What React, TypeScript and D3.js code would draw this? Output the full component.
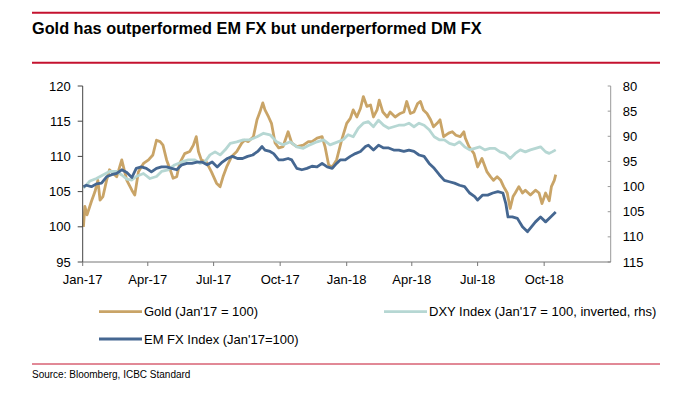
import React from 'react';
import * as d3 from 'd3';

// values
const goldData: [string, number][] = [
  ['2017-01-02', 100.0], ['2017-01-04', 102.9], ['2017-01-07', 101.7], ['2017-01-13', 103.6], ['2017-01-18', 105.0],
  ['2017-01-22', 106.6], ['2017-01-25', 103.8], ['2017-01-29', 104.3], ['2017-02-03', 106.6], ['2017-02-07', 108.1],
  ['2017-02-17', 107.1], ['2017-02-24', 109.5], ['2017-03-03', 106.6], ['2017-03-10', 105.2], ['2017-03-14', 104.5],
  ['2017-03-19', 107.8], ['2017-03-26', 109.0], ['2017-04-02', 109.5], ['2017-04-08', 110.2], ['2017-04-13', 112.3],
  ['2017-04-18', 112.1], ['2017-04-22', 111.6], ['2017-04-27', 109.5], ['2017-05-02', 108.1], ['2017-05-06', 106.9],
  ['2017-05-11', 107.1], ['2017-05-15', 109.0], ['2017-05-22', 110.4], ['2017-05-29', 110.7], ['2017-06-03', 111.6],
  ['2017-06-07', 112.8], ['2017-06-10', 110.7], ['2017-06-14', 109.5], ['2017-06-21', 109.2], ['2017-06-28', 107.8],
  ['2017-07-05', 106.2], ['2017-07-10', 105.7], ['2017-07-14', 107.1], ['2017-07-19', 108.5], ['2017-07-26', 110.0],
  ['2017-08-02', 110.7], ['2017-08-09', 111.9], ['2017-08-13', 112.3], ['2017-08-18', 112.1], ['2017-08-25', 112.8],
  ['2017-08-30', 115.2], ['2017-09-03', 116.3], ['2017-09-07', 117.6], ['2017-09-10', 116.6], ['2017-09-15', 115.6],
  ['2017-09-19', 114.7], ['2017-09-24', 111.9], ['2017-09-29', 111.2], ['2017-10-05', 111.4], ['2017-10-12', 113.5],
  ['2017-10-17', 111.9], ['2017-10-24', 111.4], ['2017-11-02', 111.6], ['2017-11-09', 112.1], ['2017-11-14', 112.1],
  ['2017-11-21', 112.6], ['2017-11-28', 112.8], ['2017-12-02', 111.4], ['2017-12-07', 108.8], ['2017-12-12', 108.5],
  ['2017-12-18', 109.5], ['2017-12-25', 112.3], ['2018-01-01', 114.7], ['2018-01-06', 115.4], ['2018-01-10', 116.6],
  ['2018-01-15', 115.6], ['2018-01-20', 116.8], ['2018-01-24', 118.5], ['2018-01-29', 117.1], ['2018-02-03', 117.3],
  ['2018-02-07', 115.6], ['2018-02-12', 116.6], ['2018-02-15', 118.0], ['2018-02-20', 116.3], ['2018-02-26', 115.6],
  ['2018-03-02', 116.3], ['2018-03-09', 115.6], ['2018-03-16', 116.1], ['2018-03-21', 116.3], ['2018-03-25', 117.8],
  ['2018-03-30', 116.1], ['2018-04-04', 116.3], ['2018-04-09', 117.5], ['2018-04-13', 117.8], ['2018-04-17', 116.6],
  ['2018-04-22', 116.1], ['2018-04-27', 115.2], ['2018-05-01', 114.2], ['2018-05-06', 114.7], ['2018-05-10', 115.2],
  ['2018-05-15', 112.8], ['2018-05-22', 113.3], ['2018-05-27', 113.5], ['2018-06-01', 113.0], ['2018-06-07', 112.8],
  ['2018-06-12', 113.5], ['2018-06-14', 112.6], ['2018-06-19', 111.4], ['2018-06-26', 110.4], ['2018-07-01', 108.5],
  ['2018-07-07', 109.7], ['2018-07-14', 107.8], ['2018-07-19', 107.1], ['2018-07-23', 106.6], ['2018-07-28', 107.1],
  ['2018-08-02', 106.6], ['2018-08-06', 105.7], ['2018-08-11', 104.8], ['2018-08-15', 102.6], ['2018-08-19', 104.3],
  ['2018-08-22', 104.8], ['2018-08-27', 105.7], ['2018-09-01', 104.8], ['2018-09-05', 105.2], ['2018-09-12', 104.5],
  ['2018-09-19', 105.2], ['2018-09-24', 104.8], ['2018-09-28', 103.3], ['2018-10-03', 104.8], ['2018-10-08', 103.7],
  ['2018-10-11', 105.7], ['2018-10-15', 106.6], ['2018-10-17', 107.4],
];

// DXY, plotted on the inverted right axis
const dxyData: [string, number][] = [
  ['2017-01-02', 100.3], ['2017-01-11', 98.9], ['2017-01-20', 98.4], ['2017-01-29', 97.7], ['2017-02-07', 97.0],
  ['2017-02-17', 97.0], ['2017-02-24', 97.7], ['2017-03-03', 98.5], ['2017-03-10', 98.7], ['2017-03-16', 98.0],
  ['2017-03-26', 97.4], ['2017-04-04', 98.4], ['2017-04-13', 98.0], ['2017-04-20', 97.0], ['2017-04-29', 96.7],
  ['2017-05-08', 95.7], ['2017-05-18', 95.1], ['2017-05-27', 94.7], ['2017-06-05', 94.7], ['2017-06-12', 95.4],
  ['2017-06-19', 95.1], ['2017-06-26', 93.7], ['2017-07-03', 93.1], ['2017-07-10', 93.7], ['2017-07-17', 92.7],
  ['2017-07-24', 91.4], ['2017-08-02', 91.1], ['2017-08-11', 90.7], ['2017-08-20', 90.7], ['2017-08-30', 90.1],
  ['2017-09-08', 89.4], ['2017-09-17', 89.7], ['2017-09-26', 91.1], ['2017-10-05', 91.7], ['2017-10-15', 91.1],
  ['2017-10-24', 92.1], ['2017-11-02', 92.4], ['2017-11-11', 91.7], ['2017-11-21', 91.1], ['2017-11-30', 90.7],
  ['2017-12-09', 91.7], ['2017-12-18', 91.2], ['2017-12-27', 90.7], ['2018-01-03', 89.7], ['2018-01-10', 90.1],
  ['2018-01-17', 88.4], ['2018-01-24', 87.4], ['2018-01-31', 87.1], ['2018-02-07', 88.1], ['2018-02-14', 86.8],
  ['2018-02-21', 87.8], ['2018-02-28', 88.4], ['2018-03-07', 88.1], ['2018-03-14', 87.8], ['2018-03-21', 87.8],
  ['2018-03-28', 87.4], ['2018-04-04', 88.1], ['2018-04-11', 87.4], ['2018-04-18', 87.8], ['2018-04-25', 88.7],
  ['2018-05-02', 90.1], ['2018-05-09', 90.7], ['2018-05-16', 90.7], ['2018-05-23', 91.4], ['2018-05-30', 91.7],
  ['2018-06-06', 91.1], ['2018-06-13', 92.1], ['2018-06-20', 92.7], ['2018-06-27', 92.4], ['2018-07-04', 92.1],
  ['2018-07-11', 92.7], ['2018-07-18', 92.4], ['2018-07-25', 92.4], ['2018-08-01', 93.1], ['2018-08-08', 93.4],
  ['2018-08-15', 94.4], ['2018-08-22', 93.4], ['2018-08-29', 92.7], ['2018-09-05', 93.1], ['2018-09-12', 92.7],
  ['2018-09-19', 92.4], ['2018-09-26', 92.1], ['2018-10-03', 93.1], ['2018-10-08', 93.4], ['2018-10-12', 93.1],
  ['2018-10-17', 92.7],
];

// EM FX, read against the left axis
const emData: [string, number][] = [
  ['2017-01-02', 105.7], ['2017-01-06', 105.9], ['2017-01-13', 105.7], ['2017-01-20', 106.1], ['2017-01-27', 106.2],
  ['2017-02-03', 107.1], ['2017-02-10', 107.4], ['2017-02-17', 107.6], ['2017-02-24', 108.1], ['2017-03-03', 107.7],
  ['2017-03-10', 107.0], ['2017-03-16', 108.3], ['2017-03-23', 108.5], ['2017-03-30', 108.3], ['2017-04-06', 107.8],
  ['2017-04-13', 108.3], ['2017-04-20', 108.5], ['2017-04-27', 108.5], ['2017-05-04', 108.3], ['2017-05-11', 108.1],
  ['2017-05-18', 108.8], ['2017-05-25', 109.0], ['2017-06-01', 109.0], ['2017-06-08', 109.2], ['2017-06-15', 109.2],
  ['2017-06-22', 108.8], ['2017-06-29', 109.2], ['2017-07-06', 108.5], ['2017-07-13', 109.2], ['2017-07-20', 109.7],
  ['2017-07-27', 110.0], ['2017-08-03', 109.7], ['2017-08-10', 109.7], ['2017-08-17', 110.0], ['2017-08-24', 110.2],
  ['2017-08-31', 110.7], ['2017-09-06', 111.4], ['2017-09-10', 110.9], ['2017-09-17', 110.7], ['2017-09-22', 110.4],
  ['2017-09-29', 109.5], ['2017-10-05', 109.5], ['2017-10-12', 109.7], ['2017-10-17', 109.5], ['2017-10-24', 108.3],
  ['2017-10-31', 108.1], ['2017-11-07', 108.3], ['2017-11-14', 108.6], ['2017-11-21', 108.5], ['2017-11-28', 109.0],
  ['2017-12-05', 108.5], ['2017-12-12', 108.3], ['2017-12-18', 109.0], ['2017-12-23', 109.5], ['2017-12-30', 109.5],
  ['2018-01-06', 110.0], ['2018-01-13', 110.4], ['2018-01-20', 110.7], ['2018-01-27', 111.4], ['2018-01-31', 111.6],
  ['2018-02-07', 110.9], ['2018-02-14', 111.6], ['2018-02-21', 111.2], ['2018-02-28', 111.2], ['2018-03-07', 110.9],
  ['2018-03-14', 110.9], ['2018-03-21', 110.7], ['2018-03-28', 110.9], ['2018-04-04', 110.7], ['2018-04-11', 110.2],
  ['2018-04-18', 110.0], ['2018-04-25', 109.0], ['2018-05-02', 108.3], ['2018-05-09', 107.4], ['2018-05-16', 106.6],
  ['2018-05-23', 106.4], ['2018-05-30', 106.2], ['2018-06-06', 105.9], ['2018-06-13', 105.7], ['2018-06-20', 104.8],
  ['2018-06-27', 104.3], ['2018-07-01', 103.8], ['2018-07-08', 104.5], ['2018-07-15', 104.5], ['2018-07-22', 104.8],
  ['2018-07-29', 105.0], ['2018-08-05', 104.8], ['2018-08-09', 103.3], ['2018-08-12', 101.4], ['2018-08-18', 101.4],
  ['2018-08-25', 101.2], ['2018-09-01', 100.0], ['2018-09-08', 99.3], ['2018-09-12', 99.8], ['2018-09-19', 100.7],
  ['2018-09-26', 101.4], ['2018-10-03', 100.7], ['2018-10-10', 101.4], ['2018-10-17', 102.1],
];

const xTickDates = ['2017-01-01', '2017-04-01', '2017-07-01', '2017-10-01', '2018-01-01', '2018-04-01', '2018-07-01', '2018-10-01'];
const leftTicks = [95, 100, 105, 110, 115, 120];
const rightTicks = [80, 85, 90, 95, 100, 105, 110, 115];

const title = 'Gold has outperformed EM FX but underperformed DM FX';
const seriesNames = ['Gold (Jan\'17 = 100)', 'DXY Index (Jan\'17 = 100, inverted, rhs)', 'EM FX Index (Jan\'17=100)'];
const source = 'Source: Bloomberg, ICBC Standard';

const W = 698, H = 396;
const plot = {left: 82.7, right: 610.7, top: 86, bottom: 262};
const red = '#c4122f';
const colors = {gold: '#c9a467', dxy: '#b6d7d3', em: '#456791'};
const font = '"Liberation Sans", Arial, sans-serif';

const parse = d3.timeParse('%Y-%m-%d');
const fmtX = d3.timeFormat('%b-%y');

const App = () => {
    let x = d3.scaleTime()
        .domain([parse('2017-01-01')!, parse('2019-01-01')!])
        .range([plot.left, plot.right]);
    let yLeft = d3.scaleLinear().domain([95, 120]).range([plot.bottom, plot.top]);
    let yRight = d3.scaleLinear().domain([80, 115]).range([plot.top, plot.bottom]);

    let lineLeft = d3.line<[string, number]>().x(d => x(parse(d[0])!)).y(d => yLeft(d[1]));
    let lineRight = d3.line<[string, number]>().x(d => x(parse(d[0])!)).y(d => yRight(d[1]));

    let legend = [
        {name: seriesNames[0], color: colors.gold, x: 99, y: 311.7},
        {name: seriesNames[1], color: colors.dxy, x: 384, y: 311.7},
        {name: seriesNames[2], color: colors.em, x: 99, y: 339},
    ];

    return (
        <svg width={W} height={H} style={{position: 'absolute', left: 0, top: 0, background: '#fff'}} fontFamily={font}>
            <line x1={32} x2={660} y1={12.7} y2={12.7} stroke={red} strokeWidth={2}/>
            <text x={32} y={33.5} fontSize={16.3} fontWeight="bold" fill="#000">{title}</text>
            <line x1={32} x2={660} y1={62.7} y2={62.7} stroke={red} strokeWidth={2}/>

            {/* series */}
            <g fill="none" strokeWidth={2.8} strokeLinejoin="round">
                <path d={lineLeft(goldData)!} stroke={colors.gold}/>
                <path d={lineRight(dxyData)!} stroke={colors.dxy}/>
                <path d={lineLeft(emData)!} stroke={colors.em}/>
            </g>

            {/* left axis */}
            <g fontSize={13} fill="#000">
                <line x1={plot.left} x2={plot.left} y1={plot.top} y2={plot.bottom} stroke="#444"/>
                {leftTicks.map(t => <g key={t}>
                    <line x1={plot.left - 5} x2={plot.left} y1={yLeft(t)} y2={yLeft(t)} stroke="#444"/>
                    <text x={plot.left - 12} y={yLeft(t)} dy="0.35em" textAnchor="end">{t}</text>
                </g>)}
            </g>

            {/* right axis */}
            <g fontSize={13} fill="#000">
                <line x1={plot.right} x2={plot.right} y1={plot.top} y2={plot.bottom} stroke="#999"/>
                {rightTicks.map(t => <g key={t}>
                    <line x1={plot.right - 3} x2={plot.right} y1={yRight(t)} y2={yRight(t)} stroke="#999"/>
                    <text x={plot.right + 12} y={yRight(t)} dy="0.35em">{t}</text>
                </g>)}
            </g>

            {/* x axis */}
            <g fontSize={13} fill="#000">
                <line x1={plot.left} x2={plot.right} y1={plot.bottom} y2={plot.bottom} stroke="#777"/>
                {xTickDates.map(s => {
                    let px = x(parse(s)!);
                    return <g key={s}>
                        <line x1={px} x2={px} y1={plot.bottom} y2={plot.bottom + 4} stroke="#777"/>
                        <text x={px} y={plot.bottom + 21.5} textAnchor="middle">{fmtX(parse(s)!)}</text>
                    </g>;
                })}
            </g>

            {/* legend */}
            <g fontSize={13} fill="#000">
                {legend.map(l => <g key={l.name}>
                    <line x1={l.x} x2={l.x + 43} y1={l.y} y2={l.y} stroke={l.color} strokeWidth={2.8}/>
                    <text x={l.x + 45} y={l.y} dy="0.35em">{l.name}</text>
                </g>)}
            </g>

            <line x1={32} x2={660} y1={364} y2={364} stroke={red} strokeWidth={1}/>
            <text x={32} y={377.5} fontSize={10} fill="#000">{source}</text>
        </svg>
    );
};

export default App;
